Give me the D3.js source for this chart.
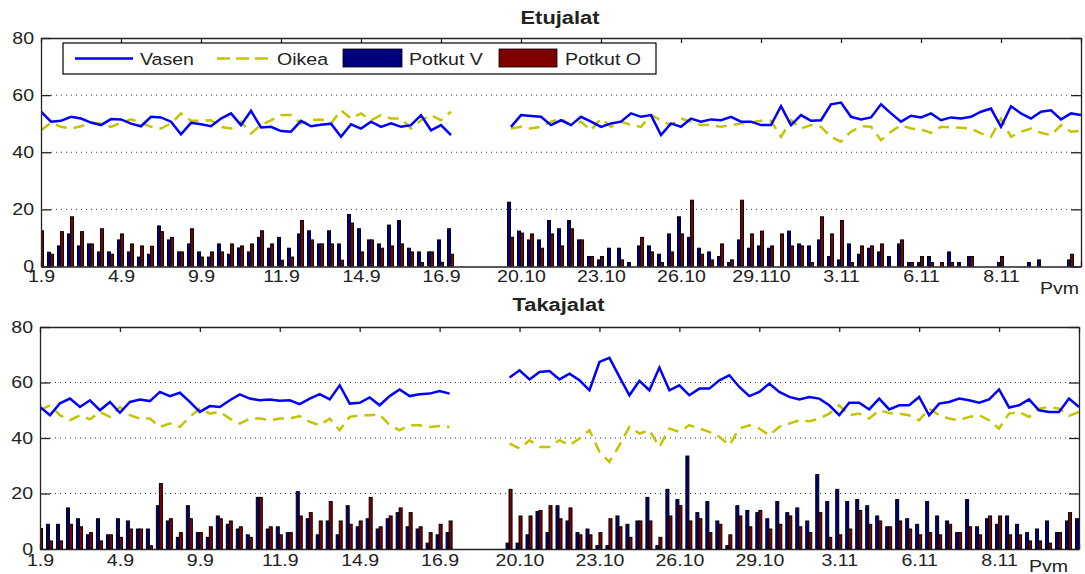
<!DOCTYPE html>
<html>
<head>
<meta charset="utf-8">
<script src="https://cdn.jsdelivr.net/npm/d3@7"></script>
<style>
  body { margin: 0; background: #fff; }
  text { font-family: "Liberation Sans", Arial, sans-serif; fill: #222; }
</style>
</head>
<body>
<script>
// sample index 0..104, a tick every 8 samples
const tickIdx = d3.range(0, 105, 8);
const topTickLabels = ["1.9","4.9","9.9","11.9","14.9","16.9","20.10","23.10","26.10","29.110","3.11","6.11","8.11",""];
const botTickLabels = ["1.9","4.9","9.9","11.9","14.9","16.9","20.10","23.10","26.10","29.10","3.11","6.11","8.11",""];
const yTicks = [0, 20, 40, 60, 80];
const gridTicks = [20, 40, 60];

const N = null;
// Etujalat
const etuVasen = [54.2,50.7,51,52.4,51.8,50.4,49.5,51.6,51.5,50,49.1,52.4,52.2,50.7,46.3,50.3,49.8,49.1,51.8,53.6,
  49.5,54.5,48.7,48.9,47.4,47.2,51,49.1,49.6,50,45.4,49.8,48.3,50.7,48.9,50.1,48.9,49.5,53,47.7,
  49.5,46,N,N,N,N,N,48.9,53,52.7,52.4,49.5,51.2,49.5,52.4,50.7,48.9,50.1,50.7,53.6,
  52.4,53,46,50.1,48.9,51.8,50.7,51.5,51.2,52.4,50.7,50.7,49.5,49.5,56.1,49.5,53,51,51.2,56.8,
  57.4,52.4,51.5,52.2,56.8,53.6,50.7,52.8,52.2,53.6,51.2,52.2,51.8,52.4,54.2,55.3,48.9,56.1,53.6,51.8,
  54.2,54.7,51.5,53.6,53];
const etuOikea = [47.7,50.3,48.9,48.3,49.1,50.3,50.1,48.9,50.3,51.5,50.3,48.9,48.3,50.1,53.6,51,51,51.2,48.9,48.3,
  50.7,46.6,49.5,51.2,53,53,50.1,51.2,51.5,50.1,54.7,51.8,53.6,51.2,53,51.8,51.8,48.3,51.2,53,
  51.2,54.2,N,N,N,N,N,48.3,48.9,48.3,48.9,50.7,51.8,49.5,50.7,47.7,51.8,48.9,50.7,49.5,
  48.9,53,51.2,49.5,51.8,50.7,49.5,49.5,48.9,49.5,50.1,50.5,51,51,45.4,51.2,48.3,49.5,48.9,45.4,
  43.7,47.2,49.1,48.9,44.2,47.2,49.5,48.3,48,46.8,48.9,48.7,48.6,48.3,46.6,45.4,51.8,45.4,47.2,48.3,
  46.8,46,49.5,47.2,47.5];
const etuPotkutV = [12,5,7.2,11.4,7.2,7.9,5.1,5.1,9.3,5.1,3.3,4.3,14.2,9.3,5.1,7.9,5.1,3.3,7.9,4.3,
  6.5,5.1,10.2,6.4,10.2,6.4,11.4,12.5,7.9,12.5,7.9,18.2,13.2,9.3,7.9,14.5,16.1,6.4,5.1,5.1,
  9.3,13.2,N,N,N,N,N,22.5,12.4,9.3,9.3,16.1,13.2,16.1,9.3,3.5,2.3,6.4,6.4,1.4,
  7.2,7.2,4.3,11.4,17.4,10.2,6.4,5.1,3.5,1.4,9.3,6.4,7.2,6.4,0,12.4,7.9,7.2,9.3,3.5,
  2.3,7.9,4.3,6.4,5.1,3.5,7.9,1.4,1.4,3.5,0,5.1,1.4,3.5,0,0,1.4,0,0,1.4,
  2.3,0,0,2.3,0];
const etuPotkutO = [12.5,4.3,12.2,17.4,12.2,7.9,13.2,4.3,11.4,7.9,7.2,7.1,12.2,10.2,5.1,13.2,3.3,5.1,5.1,7.9,
  7.2,7.9,12.5,7.9,2.2,3.3,16.1,9.3,7.9,7.9,2.2,15.2,5.1,9.3,6.4,7.2,7.9,5.1,1.4,5.1,
  1.4,4.3,N,N,N,N,N,10.2,11.7,11.4,6.4,11.4,7.2,13.2,9.3,3.5,3.5,0,2.3,0,
  10.2,5.1,1.4,5.1,11.4,23.2,4.3,2.3,7.9,2.3,23.2,11.4,12.4,7.2,11.4,7.2,7.2,1.4,17.4,11.4,
  16.1,1.4,7.2,7.2,7.9,0,9.3,1.4,3.5,1.4,1.4,1.4,0,3.5,0,0,3.5,0,0,0,
  0,0,0,4.3,0];
// Takajalat
const takaVasen = [51.2,48.2,52.5,54.2,51.2,53.6,50,53,49.1,53,53.9,53.3,56.6,55.1,56.3,53,49.4,51.5,51.2,53.6,
  55.7,54.2,53.6,53.9,53.4,53.6,52.2,54.2,55.8,53.9,59,52.4,52.7,54.6,51.8,55.1,57.5,55.1,55.8,56,
  56.9,56,N,N,N,N,N,61.8,64.4,61.1,63.8,64.1,61.1,63.2,60.8,57.2,67.4,68.9,62,55.4,
  60.6,57.2,65.4,57.2,59,55.4,57.8,57.8,60.8,62.6,58.4,55.1,56.6,59.6,56.6,54.8,53.9,54.8,54.2,51.8,
  48.2,52.7,52.7,50.3,54.2,50.3,51.8,51.8,54.8,48.2,52.4,53,54.2,53.6,52.7,53.9,57.5,51,51.8,53.9,
  50,49.4,49.4,54.2,51.2];
const takaOikea = [50,51.8,48.2,46.4,48.2,46.7,49.4,47.6,51.2,48.2,47,47,44,45.2,44,47.6,50.6,48.8,49.4,47,
  45.2,47,47,46.4,47,47,47.9,45.8,44.6,47,42.8,47.6,48.2,48.2,48.5,44.6,42.8,44.6,44.6,44,
  44.3,44,N,N,N,N,N,38,36.2,39.2,36.8,36.8,39.2,37.4,39.8,42.8,35,31.4,37.4,44,
  41.6,42.8,36.8,43.4,42.2,44.6,43.4,42.2,40.4,37.4,43.4,44.6,43.4,41,44,45.2,46.4,46,47,48.8,
  51.8,48.2,48.8,47,50,49,48.8,48.2,46.4,50.6,48.2,47,46.4,47.6,48.2,46.4,43.4,48.8,49.4,47.6,
  50.6,51.2,50.6,48,49.4];
const takaPotkutV = [7,8.9,8.9,14.8,10.9,5.1,10.9,5.1,10.9,10.1,7.2,7.2,15.6,10.1,4.2,15.6,5.9,4.2,11.9,8.9,
  7.2,5.1,18.6,7.2,8,5.9,20.7,10.9,5.1,10.1,5.1,15.6,8,10.9,7.2,10.9,13.1,8,7.2,2.1,
  5.1,5.9,N,N,N,N,N,2.1,2.1,5.1,13.5,5.9,15.6,10.1,5.9,7.2,1.2,1.2,11.9,8.9,
  10.1,18.6,1.2,21.5,17.8,33.5,13.1,17.1,10.1,1.2,15.6,13.9,13.1,10.9,17.1,13.1,14.8,10.1,26.8,17.1,
  21.5,17.1,17.8,15.6,11.9,8,17.8,10.9,8.9,17.1,11.9,10.1,5.9,17.8,8,10.9,8.9,11.9,8.9,5.9,
  7.2,10.1,5.9,10.1,10.9];
const takaPotkutO = [7.4,2.9,2.9,8.9,8,5.9,2.9,5.1,4.2,7.2,7.2,1.2,23.6,10.9,5.9,10.9,5.9,8,10.9,10.1,
  8,4.2,18.6,8,5.1,5.9,11.9,13.1,10.1,17.1,10.1,8.9,10.1,18.6,8,11.9,14.8,13.1,8,5.9,
  8.9,10.1,N,N,N,N,N,21.5,11.9,11.9,13.9,15.6,10.9,14.8,5.1,5.1,5.9,10.9,8,4.2,
  10.1,10.1,4.2,11.9,15.6,10.1,10.9,5.9,8.9,5.1,11.9,8,13.9,7.2,8.9,11.9,8,5.9,13.1,4.2,
  5.1,7.2,13.9,8.9,10.1,8,10.1,7.2,5.1,5.9,5.1,8.9,5.9,8,5.1,11.9,11.9,5.1,5.1,2.9,
  2.9,2.1,5.9,13.1,0];

const legendNames = ["Vasen", "Oikea", "Potkut V", "Potkut O"];

const W = 1085, H = 574;
const SX = 1.15; // text in the picture is a bit wide
const colV = "#0000ff", colO = "#c4c400", barV = "#00007f", barO = "#7f0000";

const svg = d3.select("body").append("svg").attr("width", W).attr("height", H);

function addText(g, x, y, str, anchor, size, weight) {
  return g.append("text")
    .attr("transform", `translate(${x},${y}) scale(${SX},1)`)
    .attr("text-anchor", anchor)
    .style("font-size", size + "px")
    .style("font-weight", weight || "normal")
    .text(str);
}

function stretch(sel) {
  sel.each(function() {
    const t = d3.select(this);
    const x = +t.attr("x") || 0;
    t.attr("x", 0).attr("transform", `translate(${x},0) scale(${SX},1)`)
      .style("font-size", "17px").attr("fill", "#222");
  });
}

function drawPanel(p) {
  const x = d3.scaleLinear().domain([0, 104]).range([p.left, p.right]);
  const y = d3.scaleLinear().domain([0, 80]).range([p.bottom, p.top]);
  const g = svg.append("g");

  const clipId = "clip" + p.id;
  svg.append("clipPath").attr("id", clipId).append("rect")
    .attr("x", p.left).attr("y", p.top).attr("width", p.right - p.left).attr("height", p.bottom - p.top);

  // grid
  g.selectAll(".grid").data(gridTicks).enter().append("line")
    .attr("x1", p.left).attr("x2", p.right)
    .attr("y1", d => y(d)).attr("y2", d => y(d))
    .attr("stroke", "#333").attr("stroke-width", 1).attr("stroke-dasharray", "1,4");

  const plot = g.append("g").attr("clip-path", `url(#${clipId})`);

  // bars
  const bars = [];
  p.potV.forEach((v, i) => { if (v != null) bars.push({i, v, dx: -3.5, c: barV}); });
  p.potO.forEach((v, i) => { if (v != null) bars.push({i, v, dx: -0.5, c: barO}); });
  plot.selectAll("rect.bar").data(bars).enter().append("rect")
    .attr("x", d => x(d.i) + d.dx)
    .attr("width", 3)
    .attr("y", d => y(d.v))
    .attr("height", d => y(0) - y(d.v))
    .attr("fill", d => d.c)
    .attr("stroke", "#000").attr("stroke-width", 1);

  // lines
  const line = d3.line().defined(d => d != null).x((d, i) => x(i)).y(d => y(d));
  plot.append("path").datum(p.oikea).attr("d", line)
    .attr("fill", "none").attr("stroke", colO).attr("stroke-width", 2.5).attr("stroke-dasharray", "11,7");
  plot.append("path").datum(p.vasen).attr("d", line)
    .attr("fill", "none").attr("stroke", colV).attr("stroke-width", 2.5);

  // axes
  const axL = g.append("g").attr("transform", `translate(${p.left},0)`)
    .call(d3.axisLeft(y).tickValues(yTicks).tickSizeInner(-10).tickSizeOuter(0).tickPadding(7));
  const axR = g.append("g").attr("transform", `translate(${p.right},0)`)
    .call(d3.axisRight(y).tickValues(yTicks).tickSizeInner(-10).tickSizeOuter(0).tickFormat(""));
  const axT = g.append("g").attr("transform", `translate(0,${p.top})`)
    .call(d3.axisTop(x).tickValues(tickIdx).tickSizeInner(-5).tickSizeOuter(0).tickFormat(""));
  const axB = g.append("g").attr("transform", `translate(0,${p.bottom})`)
    .call(d3.axisBottom(x).tickValues(tickIdx).tickSizeInner(-5).tickSizeOuter(0).tickPadding(p.xPad)
      .tickFormat((d, k) => p.tickLabels[k]));
  [axL, axR, axT, axB].forEach(a => {
    a.select(".domain").attr("stroke", "#222").attr("stroke-width", 1.3);
    a.selectAll(".tick line").attr("stroke", "#222").attr("stroke-width", 1.3);
  });
  stretch(axL.selectAll("text"));
  stretch(axB.selectAll("text"));

  addText(svg, (p.left + p.right) / 2 - 1, p.titleY, p.title, "middle", 19, "bold");
  addText(svg, p.pvmX, p.pvmY, "Pvm", "start", 17);
}

drawPanel({id: 1, left: 41, right: 1081, top: 38, bottom: 266.5, xPad: 3,
  title: "Etujalat", titleY: 24, pvmX: 1040, pvmY: 294, tickLabels: topTickLabels,
  vasen: etuVasen, oikea: etuOikea, potV: etuPotkutV, potO: etuPotkutO});
drawPanel({id: 2, left: 40, right: 1079, top: 327, bottom: 549, xPad: 5,
  title: "Takajalat", titleY: 311, pvmX: 1029, pvmY: 572, tickLabels: botTickLabels,
  vasen: takaVasen, oikea: takaOikea, potV: takaPotkutV, potO: takaPotkutO});

// legend (top panel only)
const lg = svg.append("g");
lg.append("rect").attr("x", 63).attr("y", 43).attr("width", 593).attr("height", 31)
  .attr("fill", "#fff").attr("stroke", "#000").attr("stroke-width", 1.2);
lg.append("line").attr("x1", 75).attr("x2", 133).attr("y1", 58.5).attr("y2", 58.5)
  .attr("stroke", colV).attr("stroke-width", 2.5);
addText(lg, 140, 65, legendNames[0], "start", 17);
lg.append("line").attr("x1", 217).attr("x2", 268).attr("y1", 58.5).attr("y2", 58.5)
  .attr("stroke", colO).attr("stroke-width", 2.5).attr("stroke-dasharray", "13,6");
addText(lg, 277, 65, legendNames[1], "start", 17);
lg.append("rect").attr("x", 343).attr("y", 49).attr("width", 59).attr("height", 18)
  .attr("fill", barV).attr("stroke", "#000").attr("stroke-width", 0.8);
addText(lg, 409, 65, legendNames[2], "start", 17);
lg.append("rect").attr("x", 499).attr("y", 49).attr("width", 58).attr("height", 18)
  .attr("fill", barO).attr("stroke", "#000").attr("stroke-width", 0.8);
addText(lg, 565, 65, legendNames[3], "start", 17);
</script>
</body>
</html>
